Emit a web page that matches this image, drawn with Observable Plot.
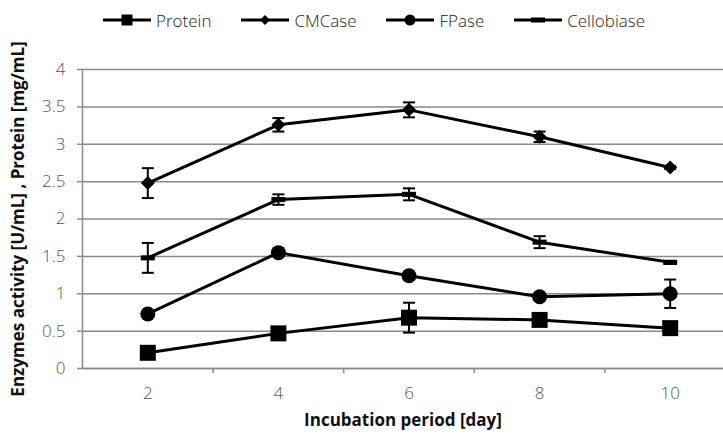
<!DOCTYPE html>
<html>
<head>
<meta charset="utf-8">
<script src="https://cdn.jsdelivr.net/npm/d3@7"></script>
<script src="https://cdn.jsdelivr.net/npm/@observablehq/plot@0.6"></script>
<style>
  body { margin: 0; background: #fff; }
  #legend {
    height: 30px; display: flex; align-items: center; padding-left: 103px; padding-top: 10px; box-sizing: border-box;
    font-family: "Open Sans", sans-serif; font-size: 17px; font-weight: 300; color: #222;
  }
  .item { display: flex; align-items: center; margin-right: 30px; }
  .item svg { margin-right: 5px; }
</style>
</head>
<body>
<div id="legend"></div>
<div id="chart"></div>
<script>
// Incubation days (categories)
const days = [2, 4, 6, 8, 10];

// Mean values and standard deviations per series
const protein = [0.21, 0.47, 0.68, 0.65, 0.54];
const proteinErr = [0.02, 0.03, 0.2, 0.03, 0.02];
const cmcase = [2.48, 3.26, 3.46, 3.1, 2.69];
const cmcaseErr = [0.2, 0.09, 0.1, 0.07, 0.02];
const fpase = [0.73, 1.55, 1.24, 0.96, 1.0];
const fpaseErr = [0.03, 0.03, 0.05, 0.04, 0.19];
const cellobiase = [1.48, 2.26, 2.33, 1.69, 1.42];
const cellobiaseErr = [0.2, 0.07, 0.08, 0.08, 0.02];

const seriesNames = ["Protein", "CMCase", "FPase", "Cellobiase"];
const yTicks = [0, 0.5, 1, 1.5, 2, 2.5, 3, 3.5, 4];
const xLabel = "Incubation period [day]";
const yLabel = "Enzymes activity [U/mL] , Protein [mg/mL]";

// Marker shapes; r = sqrt(size / PI) is the half-size in pixels
const half = s => Math.sqrt(s / Math.PI);
const square = {draw(c, s) { const r = half(s); c.rect(-r, -r, 2 * r, 2 * r); }};
const diamond = {draw(c, s) { const r = half(s); c.moveTo(0, -r); c.lineTo(r, 0); c.lineTo(0, r); c.lineTo(-r, 0); c.closePath(); }};
const circle = {draw(c, s) { const r = half(s); c.moveTo(r, 0); c.arc(0, 0, r, 0, 2 * Math.PI); }};
const dash = {draw(c, s) { const r = half(s); c.rect(-r, -r * 0.36, 2 * r, r * 0.72); }};
const cap = {draw(c, s) { const r = half(s); c.moveTo(-r, 0); c.lineTo(r, 0); }};

const series = [
  {name: seriesNames[0], values: protein, errs: proteinErr, symbol: square, r: 8, lr: 5.5},
  {name: seriesNames[1], values: cmcase, errs: cmcaseErr, symbol: diamond, r: 7, lr: 5},
  {name: seriesNames[2], values: fpase, errs: fpaseErr, symbol: circle, r: 7.5, lr: 5.5},
  {name: seriesNames[3], values: cellobiase, errs: cellobiaseErr, symbol: dash, r: 7, lr: 7}
];

const rows = series.flatMap(s => days.map((day, i) => ({series: s.name, day, value: s.values[i], err: s.errs[i]})));

const gray = "#8a8a8a";
const labelColor = "#555";
const font = "'Open Sans', sans-serif";

// Legend: line segment with marker, then the series name
const legend = d3.select("#legend");
for (const s of series) {
  const item = legend.append("div").attr("class", "item");
  const svg = item.append("svg").attr("width", 48).attr("height", 16);
  svg.append("line").attr("x1", 0).attr("x2", 48).attr("y1", 8).attr("y2", 8).attr("stroke", "black").attr("stroke-width", 3);
  const path = d3.path();
  s.symbol.draw(path, s.lr * s.lr * Math.PI);
  svg.append("path").attr("d", path.toString()).attr("transform", "translate(24,8)").attr("fill", "black");
  item.append("span").text(s.name);
}

const chart = Plot.plot({
  width: 723,
  height: 404,
  marginLeft: 82,
  marginRight: -12,
  marginTop: 39,
  marginBottom: 66,
  style: {overflow: "hidden", fontFamily: font, background: "#fff"},
  x: {domain: [1, 11]},
  y: {domain: [0, 4]},
  marks: [
    Plot.gridY(yTicks, {stroke: gray, strokeOpacity: 1, strokeWidth: 1.5}),
    Plot.ruleY([0], {stroke: gray, strokeWidth: 1.5}),
    Plot.ruleX([1], {stroke: gray, strokeWidth: 1.5}),
    // tick marks
    Plot.axisY(yTicks, {tickSize: 5, stroke: gray, strokeWidth: 1.5, tickFormat: () => "", label: null}),
    Plot.axisX([3, 5, 7, 9], {tickSize: 5, stroke: gray, strokeWidth: 1.5, tickFormat: () => "", label: null}),
    // tick labels
    Plot.text(yTicks, {y: d => d, text: d => String(d), frameAnchor: "left", dx: -17, textAnchor: "end", lineAnchor: "middle", fontSize: 17, fontWeight: 300, fill: labelColor}),
    Plot.text(days, {x: d => d, text: d => String(d), frameAnchor: "bottom", dy: 25, textAnchor: "middle", lineAnchor: "middle", fontSize: 17, fontWeight: 300, fill: labelColor}),
    // series
    Plot.line(rows, {x: "day", y: "value", z: "series", stroke: "black", strokeWidth: 3}),
    Plot.ruleX(rows, {x: "day", y1: d => d.value - d.err, y2: d => d.value + d.err, stroke: "black", strokeWidth: 2}),
    Plot.dot(rows, {x: "day", y: d => d.value + d.err, symbol: cap, r: 6, stroke: "black", strokeWidth: 2}),
    Plot.dot(rows, {x: "day", y: d => d.value - d.err, symbol: cap, r: 6, stroke: "black", strokeWidth: 2}),
    ...series.map(s => Plot.dot(rows.filter(d => d.series === s.name), {x: "day", y: "value", symbol: s.symbol, r: s.r, fill: "black", stroke: null})),
    // axis titles
    Plot.text([xLabel], {frameAnchor: "bottom", dy: 52, dx: -6, lineAnchor: "middle", textAnchor: "middle", fontWeight: "bold", fontSize: 17, fill: "#111"}),
    Plot.text([yLabel], {frameAnchor: "left", dx: -64, rotate: -90, lineAnchor: "middle", textAnchor: "middle", fontWeight: "bold", fontSize: 17, fill: "#111"})
  ]
});
document.getElementById("chart").append(chart);
</script>
</body>
</html>
